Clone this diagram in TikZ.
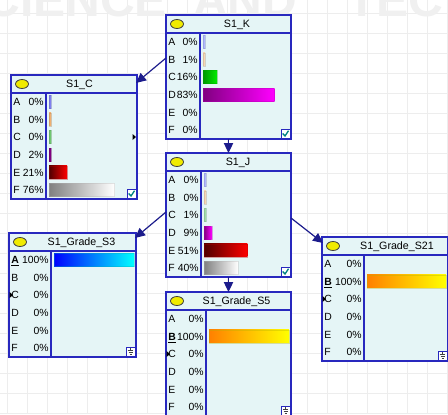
\documentclass[tikz,border=0pt]{standalone}
\usepackage{fontspec}
\setmainfont{Liberation Sans}
\usetikzlibrary{arrows.meta,calc}
\definecolor{bnblue}{RGB}{40,40,190}
\definecolor{bnfill}{RGB}{229,245,246}
\definecolor{arrblue}{RGB}{28,28,140}
\definecolor{chkteal}{RGB}{0,130,130}
\definecolor{ellyel}{RGB}{240,235,0}
\definecolor{slA}{RGB}{176,184,255}
\definecolor{slB}{RGB}{245,213,181}
\definecolor{slC}{RGB}{160,220,170}
\definecolor{slAm}{RGB}{128,128,240}
\definecolor{slBm}{RGB}{240,176,112}
\definecolor{slCm}{RGB}{112,200,112}
\definecolor{puL}{RGB}{128,0,128}
\definecolor{puR}{RGB}{255,0,255}
\definecolor{grL}{RGB}{0,150,0}
\definecolor{grR}{RGB}{0,235,0}
\definecolor{reL}{RGB}{80,0,0}
\definecolor{reR}{RGB}{255,0,0}
\definecolor{gyL}{RGB}{128,128,128}
\definecolor{gyR}{RGB}{255,255,255}
\definecolor{blL}{RGB}{0,0,255}
\definecolor{blR}{RGB}{0,255,255}
\definecolor{orL}{RGB}{255,128,0}
\definecolor{orR}{RGB}{255,255,0}
\tikzset{
  bnframe/.style={rectangle, draw=bnblue, fill=bnfill, line width=1.1pt, inner sep=0pt, outer sep=0pt},
  bnline/.style={draw=bnblue, line width=1.1pt},
  bnell/.style={fill=ellyel, draw=black!75, line width=0.6pt},
  bntitle/.style={inner sep=0pt, font=\fontsize{8pt}{9pt}\selectfont},
  bnlab/.style={inner sep=0pt, font=\fontsize{7.8pt}{9pt}\selectfont},
  arr/.style={draw=arrblue, line width=0.9pt, -{Triangle[length=7.5pt,width=7pt]}},
  gridl/.style={draw=black!7, line width=0.5pt},
  wm/.style={inner sep=0pt, text=black!6, font=\fontsize{36pt}{36pt}\selectfont\bfseries},
  iconbox/.style={draw=bnblue, fill=white, line width=0.6pt},
}
\newcommand{\ev}[1]{\underline{\textbf{#1}}}
% #1 name, #2 left, #3 top, #4 width, #5 divider offset, #6 title, #7 title offset
\newcommand{\bnbox}[7]{%
  \node[bnframe, anchor=north west, minimum width=#4*0.75pt, minimum height=124*0.75pt] (#1) at (#2,#3) {};
  \draw[bnline] (#2,#3+18) -- ++(#4,0);
  \draw[bnline] (#2+#5,#3+18) -- (#2+#5,#3+124);
  \draw[bnell] (#2+11,#3+9) ellipse [x radius=6.5, y radius=4.5];
  \node[bntitle, anchor=base] at (#2+#4/2+#7,#3+12.8) {#6};
}
% #1 left, #2 top, #3 divider offset, #4 list letter/pct/width/leftcolor/rightcolor
\newcommand{\bnrows}[4]{%
  \foreach \rl/\rp/\rw/\ra/\rb [count=\ri from 0] in {#4} {
    \node[bnlab, anchor=base west] at (#1+2, #2+30.7+17.6*\ri) {\rl};
    \node[bnlab, anchor=base east] at (#1+#3-2, #2+30.7+17.6*\ri) {\rp\%};
    \ifdim \rw pt>0pt
      \path[left color=\ra, right color=\rb, draw=\rb!70!black, draw opacity=0.35, line width=0.3pt]
        (#1+#3+3, #2+20.3+17.6*\ri) rectangle ++(\rw, 13);
    \fi
  }
}
\newcommand{\chk}[2]{%
  \draw[iconbox] (#1-10,#2-10) rectangle (#1-1,#2-1);
  \draw[chkteal, line width=1pt] (#1-8.3,#2-5.5) -- (#1-6,#2-3) -- (#1-2.5,#2-8.3);
}
\newcommand{\gnd}[2]{%
  \draw[iconbox] (#1-10,#2-10) rectangle (#1-1,#2-1);
  \draw[black!75, line width=0.5pt] (#1-5.5,#2-9) -- (#1-5.5,#2-6.5)
    (#1-8.3,#2-6.5) -- (#1-2.7,#2-6.5) (#1-7.5,#2-4.7) -- (#1-3.5,#2-4.7)
    (#1-6.5,#2-3) -- (#1-4.5,#2-3);
}
\newcommand{\mkR}[2]{\fill[black] (#1-4.5,#2-3) -- (#1-1,#2) -- (#1-4.5,#2+3) -- cycle;}
\newcommand{\mkL}[2]{\fill[black] (#1+0.5,#2-3) -- (#1+4,#2) -- (#1+0.5,#2+3) -- cycle;}
\begin{document}
\begin{tikzpicture}[x=0.75pt,y=-0.75pt]
\useasboundingbox (0,0) rectangle (448,414);
\clip (0,0) rectangle (448,414);
\fill[white] (0,0) rectangle (448,414);
\foreach \gx in {7,27,...,447} \draw[gridl] (\gx,0) -- (\gx,414);
\foreach \gy in {13,33,...,413} \draw[gridl] (0,\gy) -- (448,\gy);
\node[wm, anchor=base east] (wm1) at (167,16) {CIENCE};
\node[wm, anchor=base west] (wm2) at (193,16) {AND};
\node[wm, anchor=base west] (wm3) at (347,16) {TEC};
% boxes
\bnbox{K}{166}{15}{125}{34}{S1\_K}{8.5}
\bnrows{166}{15}{34}{A/0/2/slA/slA, B/1/2/slB/slB, C/16/13.8/grL/grR, D/83/71.4/puL/puR, E/0/0/x/x, F/0/0/x/x}
\chk{291}{139}
\bnbox{C}{11}{75}{126}{35}{S1\_C}{5.5}
\bnrows{11}{75}{35}{A/0/2/slAm/slAm, B/0/2/slBm/slBm, C/0/2/slCm/slCm, D/2/2/puL/puL, E/21/18/reL/reR, F/76/65.4/gyL/gyR}
\chk{137}{199}
\mkR{137}{137}
\bnbox{J}{166}{153}{125}{35}{S1\_J}{9.5}
\bnrows{166}{153}{35}{A/0/2/slA/slA, B/0/2/slB/slB, C/1/2/slC/slC, D/9/7.7/puL/puR, E/51/43.4/reL/reR, F/40/34/gyL/gyR}
\chk{291}{277}
\bnbox{S3}{9}{233}{127}{42}{S1\_Grade\_S3}{9}
\bnrows{9}{233}{42}{\ev{A}/100/80/blL/blR, B/0/0/x/x, C/0/0/x/x, D/0/0/x/x, E/0/0/x/x, F/0/0/x/x}
\gnd{136}{357}
\mkL{9}{295}
\bnbox{S5}{166}{292}{125}{40}{S1\_Grade\_S5}{8}
\bnrows{166}{292}{40}{A/0/0/x/x, \ev{B}/100/80/orL/orR, C/0/0/x/x, D/0/0/x/x, E/0/0/x/x, F/0/0/x/x}
\gnd{291}{416}
\mkL{166}{354}
\bnbox{S21}{322}{237}{126}{42}{S1\_Grade\_S21}{12}
\bnrows{322}{237}{42}{A/0/0/x/x, \ev{B}/100/79/orL/orR, C/0/0/x/x, D/0/0/x/x, E/0/0/x/x, F/0/0/x/x}
\gnd{448}{361}
\mkL{322}{299}
% connectors
\draw[arr] ($(K.north west)+(0,43)$) -- ($(C.north east)+(-1,8)$);
\draw[arr] (K.south) -- (J.north);
\draw[arr] ($(J.north west)+(0,59)$) -- ($(S3.north east)+(-1,5)$);
\draw[arr] (J.south) -- (S5.north);
\draw[arr] ($(J.north east)+(0,65)$) -- ($(S21.north west)+(1,6)$);
\end{tikzpicture}
\end{document}
